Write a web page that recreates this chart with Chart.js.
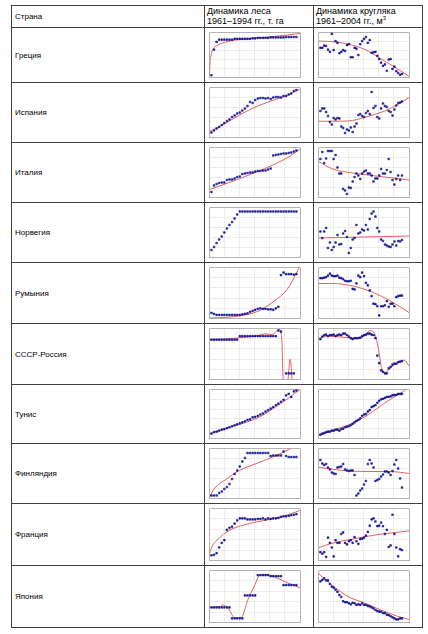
<!DOCTYPE html>
<html lang="ru">
<head>
<meta charset="utf-8">
<title>Динамика леса и кругляка</title>
<script src="https://cdn.jsdelivr.net/npm/chart.js@4.4.1/dist/chart.umd.min.js"></script>
<style>
    body { margin: 0; background: #fff; font-family: "Liberation Sans", Arial, sans-serif; color: #000; }
    table { position: absolute; left: 11px; top: 5px; width: 411px; border-collapse: collapse; table-layout: fixed; }
    td { border: 1px solid #404040; padding: 0; overflow: hidden; }
    td.name { font-size: 8px; padding-left: 3px; vertical-align: middle; }
    td.head { font-size: 9px; line-height: 10px; padding-left: 2px; vertical-align: top; }
    td.head sup { font-size: 6px; line-height: 0; }
    canvas { display: block; }
</style>
</head>
<body>
<table id="grid"></table>
<script>
// years on the x axis
const forestYears = [1961, 1962, 1963, 1964, 1965, 1966, 1967, 1968, 1969, 1970,
    1971, 1972, 1973, 1974, 1975, 1976, 1977, 1978, 1979, 1980,
    1981, 1982, 1983, 1984, 1985, 1986, 1987, 1988, 1989, 1990,
    1991, 1992, 1993, 1994];
const roundYears = [1961, 1962, 1963, 1964, 1965, 1966, 1967, 1968, 1969, 1970,
    1971, 1972, 1973, 1974, 1975, 1976, 1977, 1978, 1979, 1980,
    1981, 1982, 1983, 1984, 1985, 1986, 1987, 1988, 1989, 1990,
    1991, 1992, 1993, 1994, 1995, 1996, 1997, 1998, 1999, 2000,
    2001, 2002, 2003, 2004];

const countries = ['Греция', 'Испания', 'Италия', 'Норвегия', 'Румыния',
    'СССР-Россия', 'Тунис', 'Финляндия', 'Франция', 'Япония'];

const greeceForest = [5, 62, 79, 84, 84, 84, 84, 84, 84, 86, 86, 86, 86, 86, 86, 86, 87, 87, 88, 88, 88, 88, 88, 89, 89, 89, 89, 89, 89, 90, 90, 90, 90, 90];
const greeceForestTrend = [[1960.24, 7], [1960.4, 30], [1960.7, 45], [1961.2, 58], [1962, 66], [1963.5, 72], [1966, 78], [1970, 83], [1975, 86], [1980, 88.5], [1985, 91], [1990, 94], [1995.4, 98]];
const greeceRound = [66, 66, 71, 70, 62, 57, 97, 61, 81, 77, 54, 57, 61, 59, 72, 74, 45, 45, 66, 64, 50, 74, 81, 86, 90, 77, 83, 55, 56, 57, 48, 41, 33, 26, 29, 15, 40, 41, 19, 24, 14, 10, 6, 8];
const greeceRoundTrend = [[1960, 81], [1969.2, 79], [1977.8, 72], [1984.6, 62], [1991.5, 45], [1998.3, 28], [2007.7, 3]];

const spainForest = [10, 14, 18, 21, 25, 29, 33, 36, 41, 44, 48, 50, 54, 58, 63, 71, 69, 75, 78, 79, 79, 78, 79, 77, 80, 81, 81, 80, 83, 83, 86, 88, 93, 95];
const spainForestTrend = [[1960.3, 12], [1966.3, 28], [1972.6, 47], [1979, 63], [1985.3, 75], [1991.6, 87], [1995.4, 97]];
const spainRound = [53, 58, 58, 51, 43, 31, 26, 39, 36, 39, 38, 22, 19, 9, 16, 14, 20, 11, 22, 28, 45, 47, 43, 41, 49, 53, 47, 91, 59, 63, 41, 38, 58, 68, 63, 61, 53, 51, 44, 56, 64, 69, 70, 72];
const spainRoundTrend = [[1960, 32.5], [1969.2, 32.5], [1977.8, 34], [1986.3, 42.5], [1994.9, 53], [2001.8, 66], [2007.7, 80]];

const italyForest = [11, 24, 27, 29, 30, 30, 35, 36, 36, 38, 41, 42, 47, 48, 49, 50, 50, 52, 53, 53, 54, 54, 56, 58, 84, 85, 86, 87, 88, 88, 89, 90, 92, 94];
const italyForestTrend = [[1960.24, 16], [1966.3, 27], [1972.6, 39], [1979, 52], [1985.3, 66], [1991.6, 83], [1995.4, 97]];
const italyRound = [77, 91, 69, 78, 93, 93, 93, 77, 85, 60, 48, 48, 17, 14, 7, 20, 19, 32, 41, 48, 44, 37, 48, 52, 54, 48, 48, 44, 32, 38, 38, 44, 57, 48, 48, 55, 77, 51, 35, 26, 37, 44, 35, 44];
const italyRoundTrend = [[1960, 72], [1967.5, 57], [1977.8, 49], [1988.1, 44], [1998.3, 39.5], [2007.7, 35]];

const norwayForest = [15, 21, 29, 36, 42, 50, 58, 65, 71, 78, 86, 92, 92, 92, 92, 92, 92, 92, 92, 92, 92, 92, 92, 92, 92, 92, 92, 92, 92, 92, 92, 92, 92, 92];
const norwayForestTrend = null;
const norwayRound = [52, 39, 52, 59, 19, 30, 15, 21, 30, 45, 26, 27, 48, 53, 41, 9, 19, 36, 39, 65, 48, 50, 56, 54, 65, 56, 77, 88, 92, 82, 59, 52, 36, 33, 26, 24, 22, 21, 26, 32, 24, 33, 32, 35];
const norwayRoundTrend = [[1960, 39], [1984, 41], [2007.7, 43]];

const romaniaForest = [11, 9, 7, 7, 7, 7, 7, 7, 7, 7, 7, 7, 8, 9, 10, 13, 15, 17, 19, 20, 19, 19, 18, 18, 17, 20, 23, 85, 90, 87, 87, 87, 86, 87];
const romaniaForestTrend = [[1960.24, 1], [1966.3, 2], [1972.6, 5.7], [1979, 14], [1985.3, 34], [1990.4, 57], [1994.8, 97], [1995.4, 103]];
const romaniaRound = [79, 79, 80, 81, 84, 88, 84, 83, 83, 84, 80, 79, 77, 74, 73, 73, 74, 58, 57, 69, 84, 81, 90, 83, 70, 65, 55, 44, 29, 28, 24, 6, 24, 24, 26, 34, 23, 29, 29, 24, 42, 44, 45, 45];
const romaniaRoundTrend = [[1960, 68.6], [1967.5, 68.6], [1977.8, 64], [1988.1, 52], [1998.3, 33.7], [2007.7, 11.6]];

const ussrForest = [78, 78, 78, 78, 78, 78, 78, 78, 78, 78, 78, 85, 85, 85, 85, 85, 85, 85, 85, 85, 85, 85, 85, 85, 85, 85, 96, 94, null, 12, 12, 12, 12, null];
const ussrForestTrend = [[1960.24, 78], [1966, 79], [1972, 82], [1978, 85], [1982, 89.5], [1984.5, 88], [1987.4, 98], [1988.3, 80], [1989, -10], [1990.4, -10], [1991.6, 40], [1992.5, -10]];
const ussrRound = [79, 84, 87, 88, 85, 87, 87, 88, 85, 87, 88, 87, 90, 90, 87, 84, 81, 79, 81, 81, 81, 82, 85, 87, 88, 90, 90, 88, 87, 81, 47, 32, 18, 15, 12, 12, 22, 25, 29, 31, 31, 34, 35, 36];
const ussrRoundTrend = [[1960, 80.6], [1964.1, 85], [1969.2, 84], [1976.1, 82], [1981.2, 80.6], [1984.6, 86.5], [1987.2, 96], [1989.8, 88], [1991.5, 62], [1993.2, 23.5], [1994.9, 13.5], [1997.5, 20.6], [2000, 29.4], [2003.5, 35], [2005.2, 38], [2007.7, 26.5]];

const tunisiaForest = [10, 13, 14, 16, 18, 19, 21, 23, 25, 27, 29, 31, 33, 35, 38, 39, 43, 44, 46, 49, 51, 55, 58, 61, 64, 68, 71, 75, 79, 88, 91, 85, 96, 98];
const tunisiaForestTrend = [[1960.24, 10], [1966.3, 20], [1972.6, 30], [1979, 42], [1985.3, 62], [1991.6, 85], [1995.4, 100]];
const tunisiaRound = [8, 10, 11, 13, 14, 14, 16, 16, 18, 18, 16, 19, 20, 23, 24, 25, 27, 30, 33, 36, 38, 41, 46, 49, 50, 55, 58, 64, 66, 68, 73, 77, 80, 81, 83, 85, 85, 86, 88, 89, 89, 91, 91, 91];
const tunisiaRoundTrend = [[1960, 6], [1969.2, 19], [1977.8, 31], [1986.3, 49], [1994.9, 72.5], [2001.8, 89], [2005.2, 97.5], [2007.7, 105]];

const finlandForest = [6, 6, 6, 11, 14, 19, 23, 29, 39, 49, 56, 64, 74, 81, 91, 91, 91, 91, 91, 91, 91, 91, 91, 85, 86, 86, 86, 86, 94, 85, 83, 83, 83, 83];
const finlandForestTrend = [[1960.24, 2], [1961.5, 15], [1963, 25], [1966.3, 37], [1970.1, 51], [1973.9, 61], [1979, 71], [1985.3, 84], [1991.6, 100], [1992.5, 103]];
const finlandRound = [77, 70, 67, 69, 62, 58, 52, 50, 49, 62, 63, 64, 69, 58, 56, 55, 56, 56, 47, 6, 10, 16, 20, 28, 35, 69, 77, 70, 62, 35, 37, 39, 44, 48, 54, 54, 52, 47, 55, 68, 77, 60, 40, 22];
const finlandRoundTrend = [[1960, 62.5], [1972.6, 56], [1984.6, 54], [1994.9, 54], [2001.8, 53], [2007.7, 50]];

const franceForest = [10, 11, 14, 25, 34, 39, 59, 63, 65, 71, 77, 81, 81, 81, 79, 79, 79, 79, 80, 80, 81, 79, 81, 80, 81, 81, 82, 84, 85, 85, 86, 87, 88, 89];
const franceForestTrend = [[1960.24, 13], [1961.25, 27.6], [1963.8, 42], [1967.6, 57], [1972.6, 67], [1979, 74.7], [1985.3, 80.6], [1991.6, 89.4], [1995.4, 96.5]];
const franceRound = [16, 13, 16, 7, 44, 34, 25, 8, 39, 34, 34, 51, 54, 34, 31, 37, 39, 34, 45, 37, 32, 41, 42, 44, 48, 55, 67, 79, 81, 75, 66, 67, 73, 66, 51, 59, 26, 29, 88, 51, 25, 8, 22, 20];
const franceRoundTrend = [[1960, 24.7], [1967.5, 33.5], [1977.8, 41], [1988.1, 48], [1998.3, 53], [2007.7, 57]];

const japanForest = [29, 29, 29, 29, 29, 29, 29, 29, 8, 8, 8, 8, 8, 52, 52, 52, 52, 52, 91, 91, 91, 91, 91, 89, 89, 89, 89, 89, 72, 72, 72, 72, 72, 72];
const japanForestTrend = [[1960.24, 29.4], [1963.8, 29.4], [1965.7, 33.5], [1967.6, 26.5], [1970.1, 8.8], [1972.6, 10], [1975.2, 44], [1977.7, 70.6], [1979.6, 90], [1981.5, 92.4], [1985.3, 88], [1989.1, 79.4], [1995.4, 66.5]];
const japanRound = [79, 82, 85, 81, 81, 74, 69, 67, 63, 59, 53, 49, 41, 39, 39, 37, 35, 38, 37, 34, 35, 34, 37, 34, 34, 32, 31, 29, 27, 24, 22, 21, 21, 18, 18, 15, 14, 12, 10, 8, 6, 6, 8, 8];
const japanRoundTrend = [[1960, 94], [1967.5, 70.6], [1976.1, 49], [1984.6, 37], [1993.2, 23.5], [2001.8, 11.8], [2007.7, 5.9]];

const rows = [
    [greeceForest, greeceForestTrend, greeceRound, greeceRoundTrend],
    [spainForest, spainForestTrend, spainRound, spainRoundTrend],
    [italyForest, italyForestTrend, italyRound, italyRoundTrend],
    [norwayForest, norwayForestTrend, norwayRound, norwayRoundTrend],
    [romaniaForest, romaniaForestTrend, romaniaRound, romaniaRoundTrend],
    [ussrForest, ussrForestTrend, ussrRound, ussrRoundTrend],
    [tunisiaForest, tunisiaForestTrend, tunisiaRound, tunisiaRoundTrend],
    [finlandForest, finlandForestTrend, finlandRound, finlandRoundTrend],
    [franceForest, franceForestTrend, franceRound, franceRoundTrend],
    [japanForest, japanForestTrend, japanRound, japanRoundTrend]
];

// table layout
const headerHeight = 22;
const rowHeights = [55, 60, 60, 60, 61, 61, 59, 60, 62, 62];
const colWidths = [193, 109, 109];

const grid = document.getElementById('grid');
const colgroup = document.createElement('colgroup');
colWidths.forEach(w => {
    const col = document.createElement('col');
    col.style.width = w + 'px';
    colgroup.appendChild(col);
});
grid.appendChild(colgroup);

const head = document.createElement('tr');
head.style.height = headerHeight + 'px';
head.innerHTML = '<td class="name">Страна</td>' +
    '<td class="head">Динамика леса<br>1961–1994 гг., т. га</td>' +
    '<td class="head">Динамика кругляка<br>1961–2004 гг., м<sup>3</sup></td>';
grid.appendChild(head);

const cells = [];
countries.forEach((name, i) => {
    const tr = document.createElement('tr');
    tr.style.height = rowHeights[i] + 'px';
    const nameCell = document.createElement('td');
    nameCell.className = 'name';
    nameCell.textContent = name;
    tr.appendChild(nameCell);
    const forestCell = document.createElement('td');
    const roundCell = document.createElement('td');
    tr.appendChild(forestCell);
    tr.appendChild(roundCell);
    grid.appendChild(tr);
    cells.push([forestCell, roundCell]);
});

// frame lines darker, inner grid very faint
function gridColor(ctx) {
    const last = ctx.scale.ticks.length - 1;
    return (ctx.index === 0 || ctx.index === last) ? '#b4b4b4' : '#ececec';
}

function miniChart(cell, years, values, trend, xMin, xMax, padLeft) {
    const canvas = document.createElement('canvas');
    canvas.width = cell.clientWidth;
    canvas.height = cell.clientHeight;
    cell.appendChild(canvas);

    const points = years.map((year, i) => ({ x: year, y: values[i] }));
    const datasets = [{
        data: points,
        showLine: false,
        pointStyle: 'rect',
        pointRadius: 1.2,
        backgroundColor: '#1c1cc8',
        borderColor: '#06066e',
        borderWidth: 0.5,
        clip: 3,
        order: 1
    }];
    if (trend) {
        datasets.push({
            type: 'line',
            data: trend.map(p => ({ x: p[0], y: p[1] })),
            borderColor: '#e2504f',
            borderWidth: 0.9,
            pointRadius: 0,
            fill: false,
            cubicInterpolationMode: 'monotone',
            order: 2
        });
    }

    const axisStyle = {
        grid: { color: gridColor, drawTicks: false, lineWidth: 1 },
        border: { display: false }
    };

    new Chart(canvas, {
        type: 'scatter',
        data: { datasets: datasets },
        options: {
            responsive: false,
            animation: false,
            events: [],
            layout: { padding: { left: padLeft, right: 14 - padLeft, top: 1, bottom: 3 } },
            plugins: { legend: { display: false }, tooltip: { enabled: false } },
            scales: {
                x: Object.assign({ type: 'linear', min: xMin, max: xMax }, axisStyle, {
                    ticks: { display: false, count: 7 }
                }),
                y: Object.assign({ min: 0, max: 100 }, axisStyle, {
                    ticks: { display: false, count: 6 }
                })
            }
        }
    });
}

rows.forEach((row, i) => {
    miniChart(cells[i][0], forestYears, row[0], row[1], 1960.24, 1995.4, 1);
    miniChart(cells[i][1], roundYears, row[2], row[3], 1960, 2007.7, 1);
});
</script>
</body>
</html>
